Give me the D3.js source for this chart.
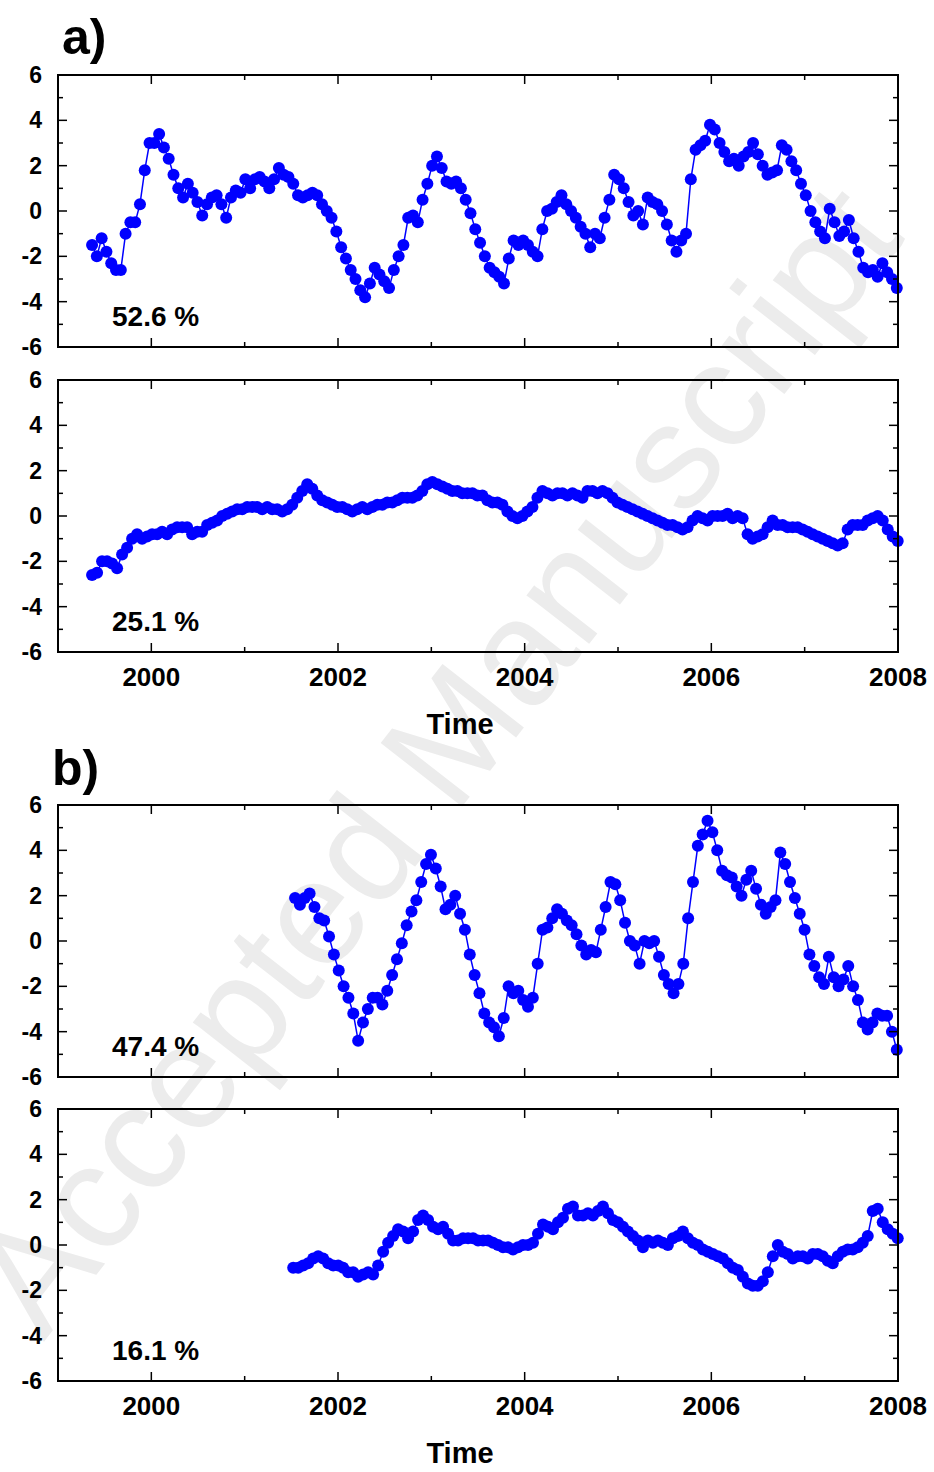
<!DOCTYPE html>
<html><head><meta charset="utf-8">
<script src="https://cdn.jsdelivr.net/npm/d3@7"></script>
<style>body{margin:0;background:#fff}text{font-family:"Liberation Sans",Arial,sans-serif;font-weight:bold}</style>
</head><body><svg id="c" width="934" height="1472"></svg>
<script>
// series sampled at even steps between start and end year
var a1 = [-1.5,-2,-1.2,-1.8,-2.3,-2.6,-2.6,-1.0,-0.5,-0.5,0.3,1.8,3.0,3.0,3.4,2.8,2.3,1.6,1.0,0.6,1.2,0.8,0.4,-0.2,0.3,0.6,0.7,0.3,-0.3,0.6,0.9,0.8,1.4,1.0,1.4,1.5,1.3,1.0,1.4,1.9,1.6,1.5,1.2,0.7,0.6,0.7,0.8,0.7,0.3,0.0,-0.3,-0.9,-1.6,-2.1,-2.6,-3.0,-3.5,-3.8,-3.2,-2.5,-2.8,-3.1,-3.4,-2.6,-2.0,-1.5,-0.3,-0.2,-0.5,0.5,1.2,2.0,2.4,1.9,1.3,1.2,1.3,1.0,0.5,-0.1,-0.8,-1.4,-2.0,-2.5,-2.7,-2.9,-3.2,-2.1,-1.3,-1.5,-1.3,-1.5,-1.8,-2.0,-0.8,0.0,0.1,0.4,0.7,0.3,0.0,-0.3,-0.7,-1.0,-1.6,-1.0,-1.2,-0.3,0.5,1.6,1.4,1.0,0.4,-0.2,0.0,-0.6,0.6,0.4,0.3,0.0,-0.6,-1.3,-1.8,-1.3,-1.0,1.4,2.7,2.9,3.1,3.8,3.6,3.0,2.6,2.2,2.3,2.0,2.4,2.6,3.0,2.5,2.0,1.6,1.7,1.8,2.9,2.7,2.2,1.8,1.2,0.7,0.0,-0.5,-0.9,-1.2,0.1,-0.5,-1.1,-0.9,-0.4,-1.2,-1.8,-2.5,-2.7,-2.6,-2.9,-2.3,-2.7,-3.0,-3.4];
var a2 = [-2.6,-2.5,-2.0,-2.0,-2.1,-2.3,-1.7,-1.4,-1.0,-0.8,-1.0,-0.9,-0.8,-0.8,-0.7,-0.8,-0.6,-0.5,-0.5,-0.5,-0.8,-0.7,-0.7,-0.4,-0.3,-0.2,0.0,0.1,0.2,0.3,0.3,0.4,0.4,0.4,0.3,0.4,0.3,0.3,0.2,0.3,0.5,0.8,1.1,1.4,1.2,0.9,0.7,0.6,0.5,0.4,0.4,0.3,0.2,0.3,0.4,0.3,0.4,0.5,0.5,0.6,0.6,0.7,0.8,0.8,0.8,0.9,1.1,1.4,1.5,1.4,1.3,1.2,1.1,1.1,1.0,1.0,1.0,0.9,0.9,0.7,0.6,0.6,0.5,0.2,0.0,-0.1,0.0,0.2,0.4,0.8,1.1,1.0,0.9,1.0,1.0,0.9,1.0,0.9,0.8,1.1,1.1,1.0,1.1,1.0,0.8,0.6,0.5,0.4,0.3,0.2,0.1,0.0,-0.1,-0.2,-0.3,-0.4,-0.4,-0.5,-0.6,-0.5,-0.2,0.0,-0.1,-0.2,0.0,0.0,0.0,0.1,-0.1,0.0,-0.1,-0.8,-1.0,-0.9,-0.8,-0.5,-0.2,-0.4,-0.4,-0.5,-0.5,-0.5,-0.6,-0.7,-0.8,-0.9,-1.0,-1.1,-1.2,-1.3,-1.2,-0.6,-0.4,-0.4,-0.4,-0.2,-0.1,0.0,-0.2,-0.6,-0.9,-1.1];
var b1 = [1.9,1.6,1.9,2.1,1.5,1.0,0.9,0.2,-0.6,-1.3,-2.0,-2.5,-3.2,-4.4,-3.6,-3.0,-2.5,-2.5,-2.8,-2.2,-1.5,-0.8,-0.1,0.7,1.3,1.8,2.6,3.4,3.8,3.2,2.4,1.4,1.6,2.0,1.2,0.5,-0.6,-1.5,-2.3,-3.2,-3.6,-3.8,-4.2,-3.4,-2.0,-2.3,-2.2,-2.6,-2.9,-2.5,-1.0,0.5,0.6,1.0,1.4,1.2,0.9,0.7,0.3,-0.2,-0.6,-0.4,-0.5,0.5,1.5,2.6,2.5,1.8,0.8,0.0,-0.2,-1.0,0.0,-0.1,0.0,-0.7,-1.5,-1.9,-2.3,-1.9,-1.0,1.0,2.6,4.2,4.7,5.3,4.8,4.0,3.1,2.9,2.8,2.4,2.0,2.7,3.1,2.3,1.6,1.2,1.5,1.8,3.9,3.4,2.6,1.9,1.2,0.5,-0.6,-1.1,-1.6,-1.9,-0.7,-1.6,-2.0,-1.7,-1.1,-2.0,-2.6,-3.6,-3.9,-3.6,-3.2,-3.3,-3.3,-4.0,-4.8];
var b2 = [-1.0,-1.0,-0.9,-0.8,-0.6,-0.5,-0.6,-0.8,-0.9,-0.9,-1.0,-1.2,-1.2,-1.4,-1.3,-1.2,-1.3,-0.9,-0.3,0.1,0.4,0.7,0.6,0.3,0.6,1.1,1.3,1.1,0.8,0.7,0.8,0.5,0.2,0.2,0.3,0.3,0.3,0.2,0.2,0.2,0.1,0.0,-0.1,-0.1,-0.2,-0.1,0.0,0.0,0.1,0.5,0.9,0.8,0.7,1.0,1.2,1.6,1.7,1.3,1.3,1.4,1.3,1.5,1.7,1.4,1.1,1.0,0.8,0.6,0.4,0.2,-0.1,0.2,0.1,0.2,0.1,0.0,0.3,0.4,0.6,0.3,0.1,0.0,-0.2,-0.3,-0.4,-0.5,-0.6,-0.8,-1.0,-1.1,-1.4,-1.7,-1.8,-1.8,-1.6,-1.2,-0.5,0.0,-0.3,-0.4,-0.6,-0.5,-0.5,-0.6,-0.4,-0.4,-0.5,-0.7,-0.8,-0.5,-0.3,-0.2,-0.2,-0.1,0.1,0.4,1.5,1.6,1.0,0.7,0.5,0.3];
var panels = [
  {vals:a1, start:1999.365, end:2007.987, pct:"52.6 %", top:75},
  {vals:a2, start:1999.365, end:2007.997, pct:"25.1 %", top:380},
  {vals:b1, start:2001.54, end:2007.987, pct:"47.4 %", top:805},
  {vals:b2, start:2001.52, end:2007.997, pct:"16.1 %", top:1109}
];
var xTicks = [2000,2002,2004,2006,2008];
var yTicks = [-6,-4,-2,0,2,4,6];

var svg = d3.select('#c');
var L = 58, R = 898, H = 272;
var x = d3.scaleLinear().domain([1999,2008]).range([L,R]);

// watermark
svg.append('text').attr('transform','translate(475,790) rotate(-52)')
  .attr('text-anchor','middle').attr('font-size',150).style('font-weight','normal')
  .attr('fill','#ececec').text('Accepted Manuscript');

panels.forEach(function(p, k){
  var y = d3.scaleLinear().domain([-6,6]).range([p.top+H, p.top]);
  var g = svg.append('g');
  var step = (p.end-p.start)/(p.vals.length-1);
  var pts = p.vals.map(function(v,i){ return [p.start+i*step, v]; });
  g.append('path').attr('d', d3.line().x(function(d){return x(d[0])}).y(function(d){return y(d[1])})(pts))
    .attr('fill','none').attr('stroke','#0000ff').attr('stroke-width',1.5);
  g.selectAll('circle').data(pts).enter().append('circle')
    .attr('cx',function(d){return x(d[0])}).attr('cy',function(d){return y(d[1])})
    .attr('r',6).attr('fill','#0000ff');

  [[p.top+H,-1],[p.top,1]].forEach(function(s){
    d3.range(1999,2009).forEach(function(t){
      var len = (t%2===0)?9:5;
      svg.append('line').attr('x1',x(t)).attr('x2',x(t)).attr('y1',s[0]).attr('y2',s[0]+s[1]*len)
        .attr('stroke','#000').attr('stroke-width',1.5);
    });
  });
  [[L,1],[R,-1]].forEach(function(s){
    d3.range(-6,7).forEach(function(t){
      var len = (t%2===0)?9:5;
      svg.append('line').attr('y1',y(t)).attr('y2',y(t)).attr('x1',s[0]).attr('x2',s[0]+s[1]*len)
        .attr('stroke','#000').attr('stroke-width',1.5);
    });
  });
  svg.append('rect').attr('x',L).attr('y',p.top).attr('width',R-L).attr('height',H)
    .attr('fill','none').attr('stroke','#000').attr('stroke-width',2);
  yTicks.forEach(function(t){
    svg.append('text').attr('x',L-16).attr('y',y(t)+8).attr('text-anchor','end')
      .attr('font-size',23).text(t);
  });
  svg.append('text').attr('x',112).attr('y',p.top+H-21).attr('font-size',28).text(p.pct);
  if(k===1 || k===3){
    xTicks.forEach(function(t){
      svg.append('text').attr('x',x(t)).attr('y',p.top+H+34).attr('text-anchor','middle')
        .attr('font-size',26).text(t);
    });
    svg.append('text').attr('x',460).attr('y',p.top+H+82).attr('text-anchor','middle')
      .attr('font-size',29).text('Time');
  }
});
svg.append('text').attr('x',62).attr('y',54).attr('font-size',50).text('a)');
svg.append('text').attr('x',52).attr('y',785).attr('font-size',50).text('b)');
</script></body></html>
